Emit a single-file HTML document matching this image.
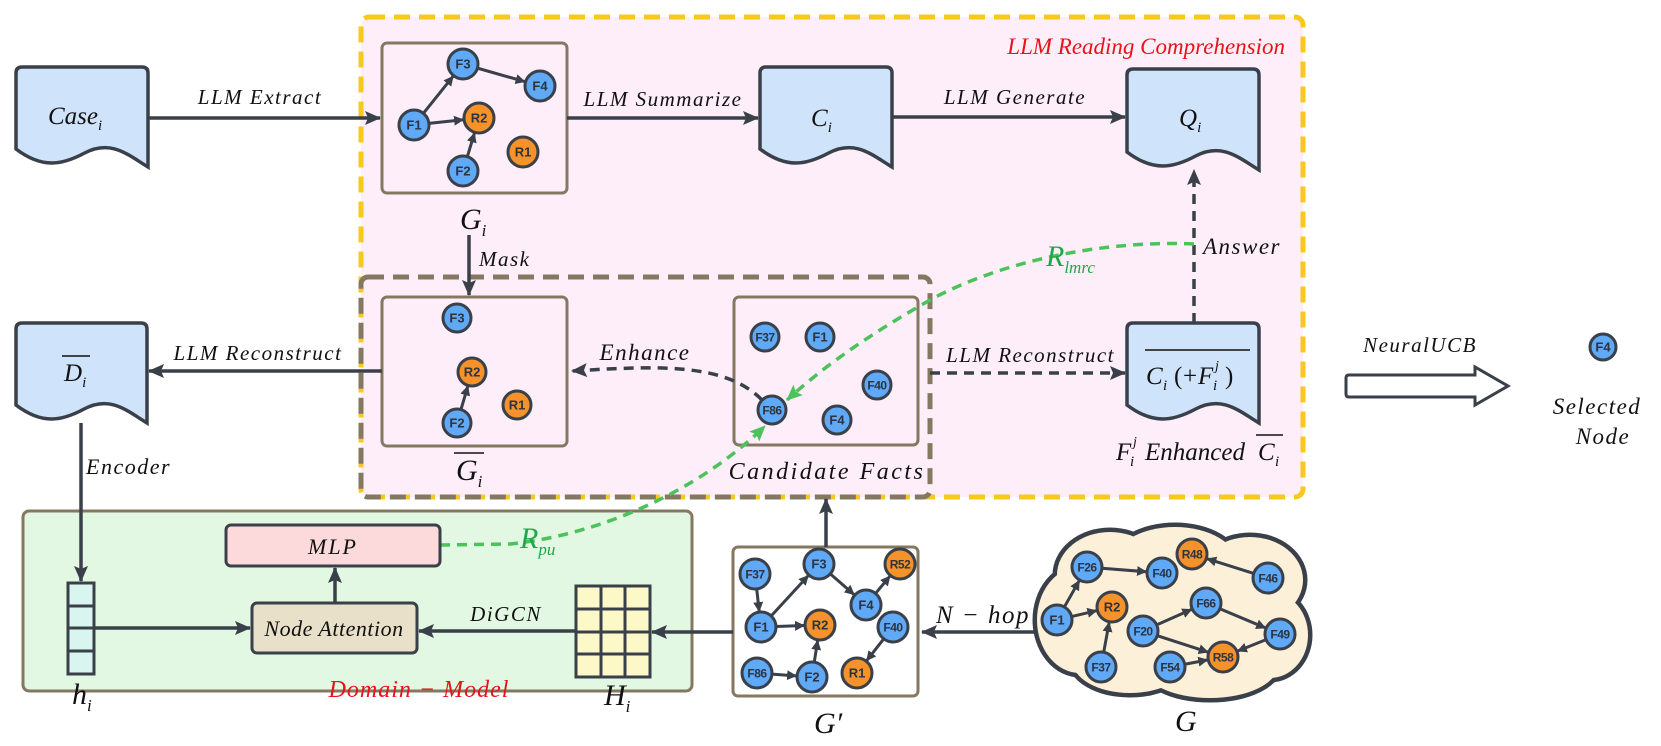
<!DOCTYPE html>
<html><head><meta charset="utf-8">
<style>
html,body{margin:0;padding:0;background:#fff;}
svg{display:block;}
.t{font-family:"Liberation Serif",serif;font-style:italic;fill:#111;}
.n{font-family:"Liberation Sans",sans-serif;font-weight:bold;fill:#2d3440;}
</style></head><body>
<svg id="s" width="1661" height="746" viewBox="0 0 1661 746" xmlns="http://www.w3.org/2000/svg">
<defs>
<marker id="a" markerWidth="10" markerHeight="10" refX="9" refY="5" orient="auto" markerUnits="userSpaceOnUse" viewBox="0 0 10 10"><path d="M0,0 L10,5 L0,10 Z" fill="#3a404a"/></marker>
<marker id="ab" markerWidth="16" markerHeight="14" refX="15" refY="7" orient="auto" markerUnits="userSpaceOnUse" viewBox="0 0 16 14"><path d="M0,0 L16,7 L0,14 L3,7 Z" fill="#3a404a"/></marker>
<marker id="ag" markerWidth="16" markerHeight="14" refX="15" refY="7" orient="auto" markerUnits="userSpaceOnUse" viewBox="0 0 16 14"><path d="M0,0 L16,7 L0,14 L3,7 Z" fill="#4cc35a"/></marker>
</defs>

<rect x="361" y="17" width="942" height="480" rx="8" fill="#fdeefa" stroke="#f8c81c" stroke-width="5" stroke-dasharray="16,9"/>
<rect x="361" y="277" width="569" height="220" rx="7" fill="none" stroke="#857860" stroke-width="5" stroke-dasharray="16,9"/>
<text class="t" x="1285" y="54" font-size="23" style="fill:#e8121a" text-anchor="end">LLM Reading Comprehension</text>

<rect x="23" y="511" width="669" height="180" rx="6" fill="#e2f8e2" stroke="#857860" stroke-width="3"/>
<text class="t" x="419" y="697" font-size="24" style="fill:#e8121a" text-anchor="middle" letter-spacing="1">Domain − Model</text>

<g id="docs"></g>

<rect x="382" y="43" width="185" height="150" rx="5" fill="none" stroke="#857860" stroke-width="3"/>
<rect x="382" y="297" width="185" height="149" rx="5" fill="none" stroke="#857860" stroke-width="3"/>
<rect x="734" y="297" width="184" height="148" rx="5" fill="none" stroke="#857860" stroke-width="3"/>
<rect x="733" y="547" width="185" height="149" rx="5" fill="#fff" stroke="#857860" stroke-width="3"/>

<g stroke="#3a404a" stroke-width="5" fill="#fdf0d8">
<ellipse cx="1080" cy="620" rx="45" ry="55"/>
<ellipse cx="1110" cy="575" rx="55" ry="45"/>
<ellipse cx="1175" cy="565" rx="65" ry="40"/>
<ellipse cx="1250" cy="580" rx="55" ry="45"/>
<ellipse cx="1270" cy="635" rx="40" ry="45"/>
<ellipse cx="1210" cy="665" rx="70" ry="35"/>
<ellipse cx="1130" cy="660" rx="60" ry="35"/>
</g>
<g fill="#fdf0d8">
<ellipse cx="1080" cy="620" rx="43" ry="53"/>
<ellipse cx="1110" cy="575" rx="53" ry="43"/>
<ellipse cx="1175" cy="565" rx="63" ry="38"/>
<ellipse cx="1250" cy="580" rx="53" ry="43"/>
<ellipse cx="1270" cy="635" rx="38" ry="43"/>
<ellipse cx="1210" cy="665" rx="68" ry="33"/>
<ellipse cx="1130" cy="660" rx="58" ry="33"/>
<rect x="1080" y="570" width="180" height="90"/>
</g>

<g stroke="#3a404a" stroke-width="3.5" fill="none">
<line x1="148" y1="118" x2="380" y2="118" marker-end="url(#ab)"/>
<line x1="567" y1="118" x2="758" y2="118" marker-end="url(#ab)"/>
<line x1="892" y1="117" x2="1125" y2="117" marker-end="url(#ab)"/>
<line x1="469" y1="235" x2="469" y2="295" marker-end="url(#ab)"/>
<line x1="382" y1="371" x2="149" y2="371" marker-end="url(#ab)"/>
<path d="M762,400 C725,362 655,366 572,371" stroke-dasharray="10,7" marker-end="url(#ab)"/>
<line x1="930" y1="373" x2="1125" y2="373" stroke-dasharray="10,7" marker-end="url(#ab)"/>
<line x1="1194" y1="323" x2="1194" y2="170" stroke-dasharray="10,7" marker-end="url(#ab)"/>
<line x1="81" y1="423" x2="81" y2="581" marker-end="url(#ab)"/>
<line x1="826" y1="547" x2="826" y2="499" marker-end="url(#ab)"/>
<line x1="1036" y1="632" x2="922" y2="632" marker-end="url(#ab)"/>
<line x1="733" y1="632" x2="652" y2="632" marker-end="url(#ab)"/>
<line x1="576" y1="631" x2="419" y2="631" marker-end="url(#ab)"/>
<line x1="94" y1="628" x2="250" y2="628" marker-end="url(#ab)"/>
<line x1="335" y1="603" x2="335" y2="568" marker-end="url(#ab)"/>
</g>
<g stroke="#4cc35a" stroke-width="3.5" fill="none" stroke-dasharray="10,7">
<path d="M1194,244 C1100,240 1000,262 930,300 C860,340 820,370 787,400" marker-end="url(#ag)"/>
<path d="M440,545 L510,544 C600,535 700,490 765,426" marker-end="url(#ag)"/>
</g>

<rect x="226" y="525" width="214" height="41" rx="5" fill="#fcd9da" stroke="#3a404a" stroke-width="3"/>
<text class="t" x="333" y="554" font-size="22" text-anchor="middle" letter-spacing="2">MLP</text>
<rect x="252" y="603" width="165" height="50" rx="5" fill="#e8e0c9" stroke="#3a404a" stroke-width="3"/>
<text class="t" x="334" y="636" font-size="22" text-anchor="middle" letter-spacing="0.5">Node Attention</text>
<g stroke="#3a404a" stroke-width="3">
<rect x="68" y="583" width="26" height="91" fill="#d8f5f0"/>
<line x1="68" y1="606" x2="94" y2="606"/><line x1="68" y1="628" x2="94" y2="628"/><line x1="68" y1="651" x2="94" y2="651"/>
<rect x="576" y="586" width="74" height="91" fill="#fdf8c8"/>
<line x1="601" y1="586" x2="601" y2="677"/><line x1="625" y1="586" x2="625" y2="677"/>
<line x1="576" y1="609" x2="650" y2="609"/><line x1="576" y1="632" x2="650" y2="632"/><line x1="576" y1="654" x2="650" y2="654"/>
</g>

<path d="M1349,375 L1475,375 L1475,367 L1508,386 L1475,405 L1475,397 L1349,397 Q1346,397 1346,394 L1346,378 Q1346,375 1349,375 Z" fill="#fff" stroke="#3a404a" stroke-width="3"/>

<g id="graphs"></g>

<g class="t" font-size="21" letter-spacing="1.5">
<text x="260" y="104" text-anchor="middle">LLM Extract</text>
<text x="663" y="106" text-anchor="middle">LLM Summarize</text>
<text x="1015" y="104" text-anchor="middle">LLM Generate</text>
<text x="479" y="266">Mask</text>
<text x="258" y="360" text-anchor="middle">LLM Reconstruct</text>
<text x="645" y="360" text-anchor="middle" font-size="23">Enhance</text>
<text x="1115" y="362" text-anchor="end">LLM Reconstruct</text>
<text x="1203" y="254" font-size="23">Answer</text>
<text x="86" y="474" font-size="22">Encoder</text>
<text x="506" y="621" text-anchor="middle">DiGCN</text>
<text x="983" y="623" text-anchor="middle" font-size="25">N − hop</text>
<text x="1420" y="352" text-anchor="middle">NeuralUCB</text>
<text x="827" y="479" text-anchor="middle" font-size="24" letter-spacing="2.5">Candidate Facts</text>
<text x="1597" y="414" text-anchor="middle" font-size="23">Selected</text>
<text x="1603" y="444" text-anchor="middle" font-size="23">Node</text>
</g>
<g class="t" font-size="30">
<text x="460" y="229">G<tspan font-size="17" dy="7">i</tspan></text>
<text x="456" y="480">G<tspan font-size="17" dy="7">i</tspan></text>
<line x1="454" y1="453" x2="484" y2="453" stroke="#111" stroke-width="1.5"/>
<text x="814" y="733">G′</text>
<text x="1175" y="731">G</text>
<text x="604" y="705">H<tspan font-size="17" dy="7">i</tspan></text>
<text x="72" y="704">h<tspan font-size="17" dy="7">i</tspan></text>
<text x="1046" y="266" style="fill:#1fa84a">R<tspan font-size="17" dy="7">lmrc</tspan></text>
<text x="520" y="548" style="fill:#1fa84a">R<tspan font-size="17" dy="7">pu</tspan></text>
</g>
<g class="t" font-size="25">
<text x="48" y="124">Case<tspan font-size="15" dy="6">i</tspan></text>
<text x="811" y="126">C<tspan font-size="15" dy="6">i</tspan></text>
<text x="1179" y="126">Q<tspan font-size="15" dy="6">i</tspan></text>
<text x="64" y="381">D<tspan font-size="15" dy="6">i</tspan></text>
<line x1="62" y1="356" x2="90" y2="356" stroke="#111" stroke-width="1.5"/>
<text x="1146" y="384">C</text><text x="1163" y="390" font-size="15">i</text>
<text x="1174" y="384" font-style="normal">(</text><text x="1183" y="384" font-style="normal">+</text>
<text x="1198" y="384">F</text><text x="1213" y="390" font-size="15">i</text><text x="1215" y="370" font-size="14">j</text>
<text x="1225" y="384" font-style="normal">)</text>
<line x1="1145" y1="350" x2="1250" y2="350" stroke="#111" stroke-width="1.5"/>
<text x="1116" y="460">F</text><text x="1130" y="466" font-size="15">i</text><text x="1133" y="446" font-size="14">j</text>
<text x="1145" y="460">Enhanced</text>
<text x="1258" y="460">C</text><text x="1275" y="466" font-size="15">i</text>
<line x1="1256" y1="435" x2="1283" y2="435" stroke="#111" stroke-width="1.5"/>
</g>
</svg>
<script>
var NS="http://www.w3.org/2000/svg";
function el(t,a,p){var e=document.createElementNS(NS,t);for(var k in a)e.setAttribute(k,a[k]);p.appendChild(e);return e;}
var docs=document.getElementById("docs");
function doc(x,y,w,h){
 var d="M"+(x+6)+","+y+" L"+(x+w-6)+","+y+" Q"+(x+w)+","+y+" "+(x+w)+","+(y+6)+" L"+(x+w)+","+(y+h)+
 " C"+(x+w*0.85)+","+(y+h-12)+" "+(x+w*0.72)+","+(y+h-28)+" "+(x+w*0.52)+","+(y+h-14)+
 " C"+(x+w*0.35)+","+(y+h-2)+" "+(x+w*0.2)+","+(y+h+2)+" "+x+","+(y+h-18)+
 " L"+x+","+(y+6)+" Q"+x+","+y+" "+(x+6)+","+y+" Z";
 el("path",{d:d,fill:"#cfe3fb",stroke:"#3a404a","stroke-width":3.5},docs);
}
doc(16,67,132,100);doc(760,67,132,100);doc(1127,69,132,101);doc(16,323,131,100);doc(1127,323,132,100);
var G=document.getElementById("graphs");
function graph(nodes,edges,r){
 edges.forEach(function(e){var a=nodes[e[0]],b=nodes[e[1]];var dx=b[0]-a[0],dy=b[1]-a[1],L=Math.sqrt(dx*dx+dy*dy);
  el("line",{x1:a[0]+dx/L*r,y1:a[1]+dy/L*r,x2:b[0]-dx/L*(r+1),y2:b[1]-dy/L*(r+1),stroke:"#3a404a","stroke-width":3,"marker-end":"url(#a)"},G);});
 for(var k in nodes){var n=nodes[k];var nm=n[2]||k;
  el("circle",{cx:n[0],cy:n[1],r:r,fill:nm[0]=="R"?"#f5922a":"#5fa9f7",stroke:"#3a404a","stroke-width":3},G);
  var fs=nm.length>2?12:13;
  var t=el("text",{x:n[0],y:n[1]+4.5,"text-anchor":"middle","class":"n","font-size":fs,"letter-spacing":nm.length>2?"-0.5":"0"},G);t.textContent=nm;}
}
graph({F3:[463,64],F4:[540,86],F1:[414,125],R2:[479,118],R1:[523,152],F2:[463,171]},[["F1","F3"],["F3","F4"],["F1","R2"],["F2","R2"]],15);
graph({F3:[457,318],R2:[472,372],R1:[517,405],F2:[457,423]},[["F2","R2"]],14);
graph({F37:[765,337],F1:[820,337],F40:[877,385],F86:[772,410],F4:[837,420]},[],14);
graph({F37:[755,574],F3:[819,564],R52:[900,564],F4:[866,605],F1:[761,627],R2:[820,625],F40:[893,627],F86:[757,673],F2:[812,677],R1:[857,673]},
 [["F37","F1"],["F1","F3"],["F3","F4"],["F4","R52"],["F1","R2"],["F86","F2"],["F2","R2"],["F40","R1"]],15);
graph({F1:[1057,620],F26:[1087,567],R2:[1112,607],F40:[1162,573],R48:[1192,554],F46:[1268,578],F66:[1206,603],F20:[1143,631],F49:[1280,634],F37:[1101,667],F54:[1170,667],R58:[1223,657]},
 [["F1","F26"],["F1","R2"],["F26","F40"],["F46","R48"],["F37","R2"],["F20","F66"],["F20","R58"],["F66","F49"],["F49","R58"],["F54","R58"]],15);
graph({S:[1603,347,"F4"]},[],13);
</script>
</body></html>
